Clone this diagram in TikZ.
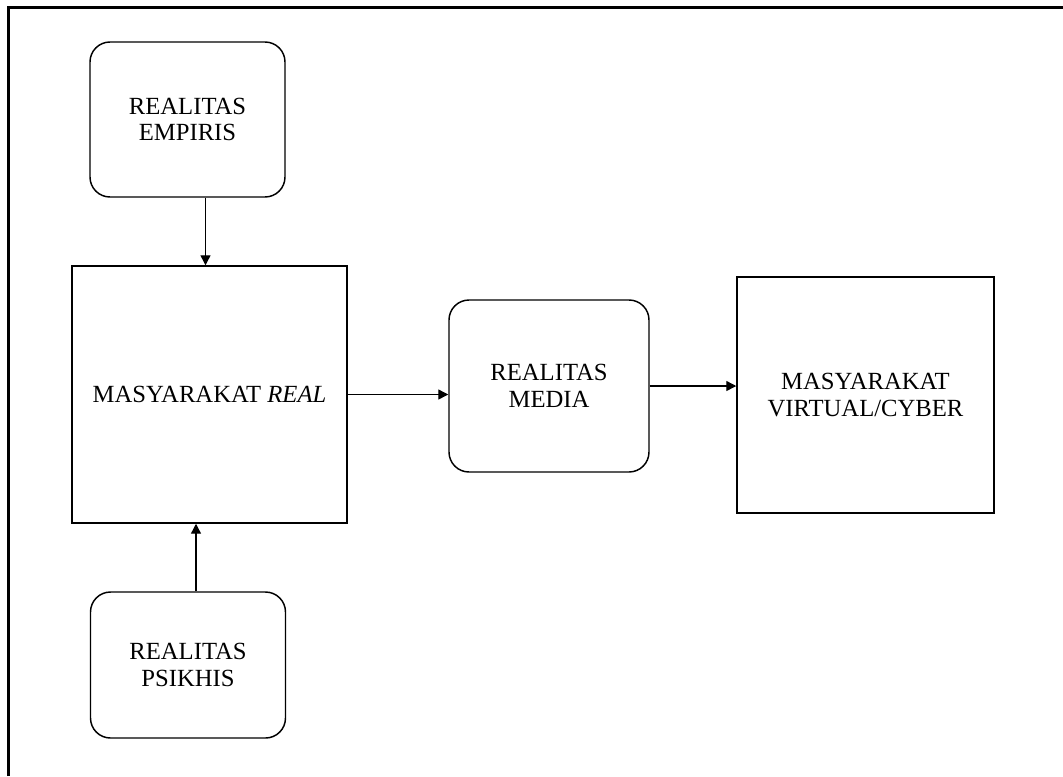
\documentclass[tikz,border=0pt]{standalone}
\usepackage{fontspec}
\setmainfont{Liberation Serif}
\usetikzlibrary{arrows.meta}

\tikzset{
    roundbox/.style={draw, line width=1.1pt, rounded corners=15pt, align=center},
    squarebox/.style={draw, line width=1.1pt, align=center},
    arrow/.style={line width=1pt, -{Triangle[length=7.5pt,width=7.5pt]}}
}

\begin{document}
\begin{tikzpicture}[x=0.75pt, y=-0.75pt, font=\fontsize{18.5}{20}\selectfont]

    % Fix the size of the picture
    \useasboundingbox (0,0) rectangle (1063,776);

    % Define the centres of the boxes
    \coordinate (E) at (187.5,119.5);
    \coordinate (R) at (209.5,394.5);
    \coordinate (P) at (188,665);
    \coordinate (M) at (549,386);
    \coordinate (V) at (865.5,395);

    % Draw the frame (top and left edges)
    \draw[line width=2.25pt] (8.5,776) -- (8.5,7) -- (1063,7);

    % Draw the boxes
    \node (empiris) at (E) [roundbox, minimum width=146.25pt, minimum height=116.25pt] {REALITAS\\EMPIRIS};
    \node (real) at (R) [squarebox, minimum width=206.25pt, minimum height=192.75pt] {MASYARAKAT \textit{REAL}};
    \node (psikhis) at (P) [roundbox, minimum width=146.25pt, minimum height=109.5pt] {REALITAS\\PSIKHIS};
    \node (media) at (M) [roundbox, minimum width=150pt, minimum height=129pt] {REALITAS\\MEDIA};
    \node (virtual) at (V) [squarebox, minimum width=192.75pt, minimum height=177pt] {MASYARAKAT\\VIRTUAL/CYBER};

    % Draw the arrows between the boxes
    \draw[arrow] ([xshift=13.5pt]empiris.south) -- ([xshift=13.5pt]empiris.south |- real.north);
    \draw[arrow] ([xshift=6pt]psikhis.north) -- ([xshift=6pt]psikhis.north |- real.south);
    \draw[arrow] (real.east) -- (real.east -| media.west);
    \draw[arrow] (media.east) -- (media.east -| virtual.west);

\end{tikzpicture}
\end{document}
